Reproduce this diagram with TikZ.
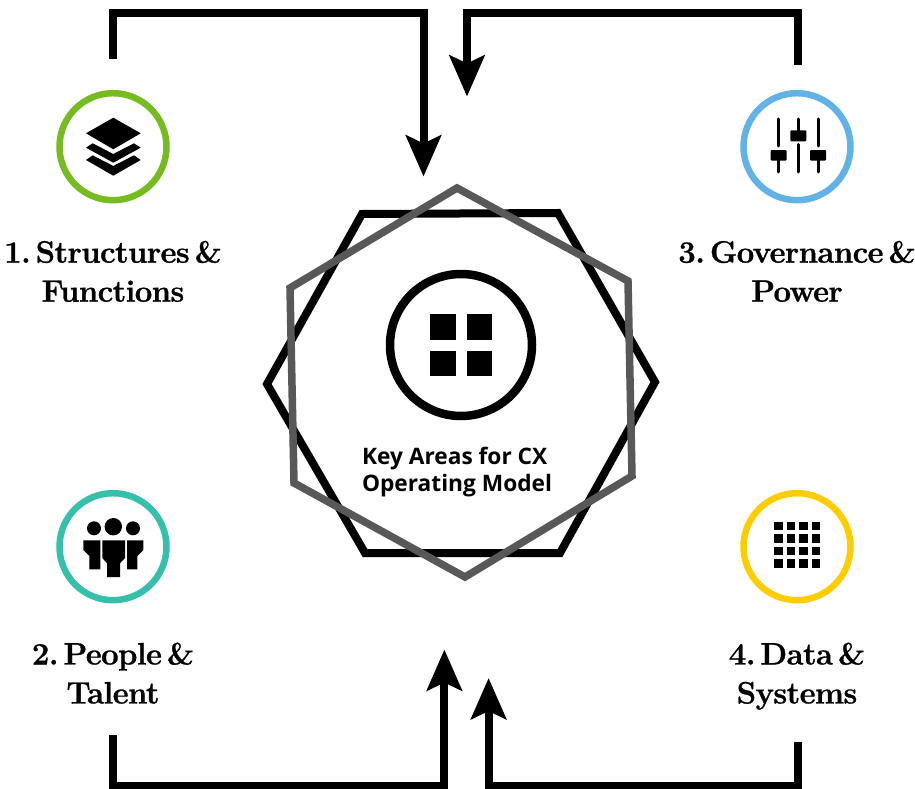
\documentclass[tikz,border=0pt]{standalone}
\usepackage{fontspec}
\newfontfamily\ctrfont{Open Sans}[BoldFont={* Bold}]
\newfontfamily\labfont{Latin Modern Roman}[BoldFeatures={FakeBold=0.9,LetterSpace=-1.8,WordSpace=0.45}]
\usetikzlibrary{arrows.meta}
\definecolor{cgreen}{RGB}{118,188,33}
\definecolor{cteal}{RGB}{54,191,170}
\definecolor{cblue}{RGB}{98,178,232}
\definecolor{cyellow}{RGB}{255,204,0}
\definecolor{cgray}{RGB}{88,88,88}
\tikzset{
  x=1pt,y=-1pt,
  ring/.style={draw,circle,line width=6.5pt,minimum size=107pt,inner sep=0pt,fill=white},
  flow/.style={line width=8pt,-{Stealth[length=41pt,width=35pt,inset=8pt]},miter limit=10},
  arealabel/.style={align=center,anchor=base,inner sep=0pt,font=\labfont\frenchspacing\fontsize{31}{39}\selectfont\bfseries,text=black},
  ink/.style={fill=black,draw=none},
  hexa/.style={line width=8pt,line join=miter,draw=black},
  hexb/.style={line width=7.5pt,line join=miter,draw=cgray},
  slider/.style={line width=3pt,line cap=round},
}
\begin{document}
\begin{tikzpicture}
\useasboundingbox (0,0) rectangle (915,789);
% connector free ends
\coordinate (s1) at (113.3,59);
\coordinate (e1) at (423.5,176.5);
\coordinate (s3) at (798,65);
\coordinate (e3) at (467,96.5);
\coordinate (s2) at (113,735);
\coordinate (e2) at (444.4,649.5);
\coordinate (s4) at (798,742);
\coordinate (e4) at (488.6,678);
\draw[flow] (s1) |- (266,12.7) -| (e1);
\draw[flow] (s3) |- (630,12.7) -| (e3);
\draw[flow] (s2) |- (280,786) -| (e2);
\draw[flow] (s4) |- (640,786) -| (e4);
% central polygons
\draw[hexa] (362,214) -- (558,213) -- (655,382) -- (560,553) -- (365,553) -- (267,384) -- cycle;
\draw[hexb] (457,188) -- (628,281) -- (632,476) -- (465,577) -- (294,483) -- (290,288) -- cycle;
% centre
\node[draw,circle,line width=8.5pt,minimum size=142pt,inner sep=0pt] (core) at (461,345) {};
\fill[ink] (430,314) rectangle (455.5,339.5);
\fill[ink] (466.5,314) rectangle (492,339.5);
\fill[ink] (430,350.5) rectangle (455.5,376);
\fill[ink] (466.5,350.5) rectangle (492,376);
\node[align=left,font=\ctrfont\fontsize{22.7}{27}\selectfont\bfseries,anchor=west] (title) at (358.5,472) {Key Areas for CX\\Operating Model};
% rings
\node[ring,draw=cgreen] (r1) at (113,146.7) {};
\node[ring,draw=cteal] (r2) at (113,546.7) {};
\node[ring,draw=cblue] (r3) at (797,146.7) {};
\node[ring,draw=cyellow] (r4) at (797,546.7) {};
% icon 1: layers
\fill[ink] (113.3,117.7) -- (140.7,133.3) -- (113.3,149.3) -- (86,133.3) -- cycle;
\fill[ink] (92.7,143.3) -- (113.3,154) -- (134,143.3) -- (140.7,147.7) -- (113.3,162.7) -- (86,147.7) -- cycle;
\fill[ink] (92.7,155.3) -- (113.3,166) -- (134,155.3) -- (140.7,160) -- (113.3,175.7) -- (86,160) -- cycle;
% icon 2: people
\fill[ink] (94,528.3) circle (7);
\fill[ink] (113.3,526.7) circle (8.7);
\fill[ink] (133,528.3) circle (7);
\fill[ink] (83.3,540.3) -- (100.3,540.3) -- (100.3,569.3) -- (89.3,569.3) -- (89.3,556) -- (83.3,550) -- cycle;
\fill[ink] (102.3,540.3) -- (125,540.3) -- (125,558) -- (120,563.3) -- (120,577) -- (107,577) -- (107,563.3) -- (102.3,558) -- cycle;
\fill[ink] (127,540.3) -- (143.3,540.3) -- (143.3,550) -- (137.3,556) -- (137.3,569.3) -- (127,569.3) -- cycle;
% icon 3: sliders
\draw[slider] (778.7,119) -- (778.7,146);
\draw[slider] (778.7,160) -- (778.7,172);
\draw[slider] (798,119) -- (798,131);
\draw[slider] (798,144.5) -- (798,172);
\draw[slider] (818,119) -- (818,146);
\draw[slider] (818,160) -- (818,172);
\fill[ink,rounded corners=1pt] (770.7,150) rectangle (786.7,160.7);
\fill[ink,rounded corners=1pt] (790.3,130.3) rectangle (806.3,141.3);
\fill[ink,rounded corners=1pt] (810,150) rectangle (826,160.7);
% icon 4: grid
\foreach \cx in {774.3,786.8,799.3,811.8}{
  \foreach \cy in {521.7,534.2,546.7,559.2}{
    \fill[ink] (\cx,\cy) rectangle ++(8.5,8.5);
  }
}
% labels
\node[arealabel] (l1) at (113,301.7) {1. Structures \&\\Functions};
\node[arealabel] (l2) at (113,703.5) {2. People \&\\Talent};
\node[arealabel] (l3) at (797,301.7) {3. Governance \&\\Power};
\node[arealabel] (l4) at (797,703.5) {4. Data \&\\Systems};
\end{tikzpicture}
\end{document}
